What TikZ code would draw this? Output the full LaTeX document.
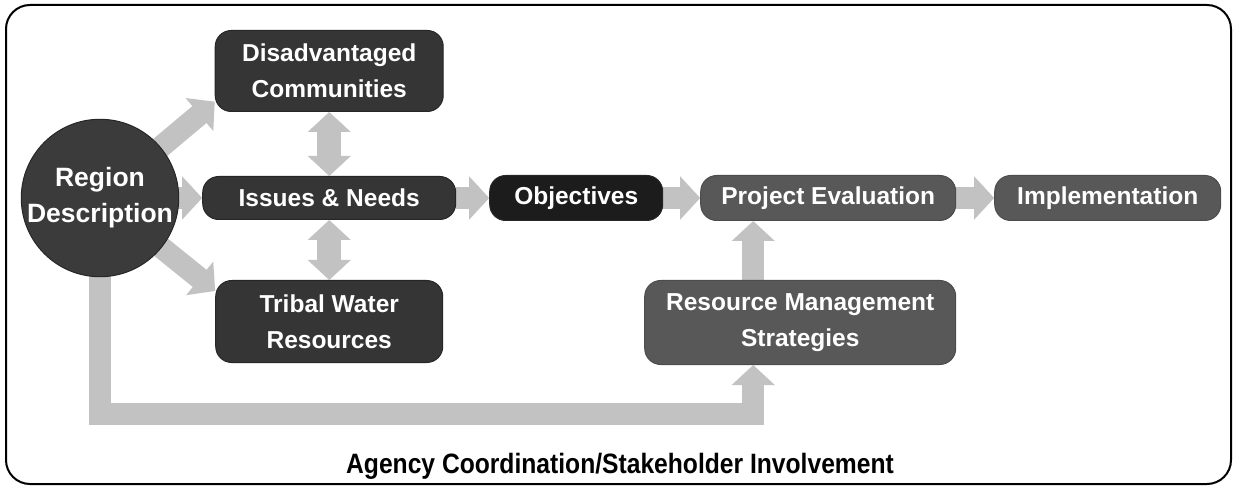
\documentclass[tikz,border=0pt]{standalone}
\usepackage{fontspec}
\setmainfont{Liberation Sans}
\usetikzlibrary{positioning,arrows.meta}
\pgfdeclarelayer{back}
\pgfsetlayers{back,main}
\definecolor{regionfill}{HTML}{3B3B3B}
\definecolor{darkfill}{HTML}{353535}
\definecolor{objfill}{HTML}{1C1C1C}
\definecolor{midfill}{HTML}{585858}
\definecolor{arrowfill}{HTML}{C2C2C2}
\tikzset{
    boxtext/.style={text=white, align=center, inner sep=0pt,
        font=\bfseries\fontsize{24.5}{36}\selectfont},
    darkbox/.style={boxtext, rounded corners=16pt, fill=darkfill, draw=black!85, line width=1pt},
    objbox/.style={darkbox, fill=objfill},
    midbox/.style={darkbox, fill=midfill, draw=black!70},
    flow/.style={draw=arrowfill, line width=22pt, -{Triangle[width=42pt,length=20pt]}},
    twoway/.style={draw=arrowfill, line width=24pt,
        {Triangle[width=42pt,length=20pt]}-{Triangle[width=42pt,length=20pt]}},
    frame/.style={draw=black, line width=2pt, rounded corners=24pt}
}

\begin{document}
\begin{tikzpicture}[x=1pt,y=-1pt]
            \useasboundingbox (0,0) rectangle (1234,486);
            \draw[frame] (6,5) rectangle (1231,484);
            \node[boxtext, circle, fill=regionfill, draw=black!85, line width=1pt, minimum size=154pt,
                font=\bfseries\fontsize{26.5}{36}\selectfont] (region) at (100,198) {Region\\Description};
            \node[darkbox, minimum width=253pt, minimum height=43pt, right=23pt of region] (issues) {Issues \& Needs};
            \node[darkbox, minimum width=228pt, minimum height=81pt, above=64pt of issues] (disadv) {Disadvantaged\\Communities};
            \node[darkbox, minimum width=227pt, minimum height=82pt, below=60pt of issues] (tribal) {Tribal Water\\Resources};
            \node[objbox, minimum width=173pt, minimum height=45pt, right=33pt of issues] (objectives) {Objectives};
            \node[midbox, minimum width=255pt, minimum height=45pt, right=37pt of objectives] (evaluation) {Project Evaluation};
            \node[midbox, minimum width=226pt, minimum height=45pt, right=38pt of evaluation] (implementation) {Implementation};
            \node[midbox, minimum width=311pt, minimum height=84pt, below=59pt of evaluation.south east, anchor=north east] (resource) {Resource Management\\Strategies};
            \node[font=\bfseries\fontsize{28}{30}\selectfont] (agency) at (620,466) {\scalebox{0.88}[1]{Agency Coordination/Stakeholder Involvement}};
            \coordinate (riser) at ([xshift=109pt]resource.south west);
            \coordinate (bend) at ([yshift=-49pt]riser);
            \begin{pgfonlayer}{back}
                \draw[flow] (region.center) -- (disadv.195);
                \draw[flow] (region.center) -- (issues.west);
                \draw[flow] (region.center) -- (tribal.165);
                \draw[twoway] (disadv.south) -- (issues.north);
                \draw[twoway] (issues.south) -- (tribal.north);
                \draw[flow] (issues.east) -- (objectives.west);
                \draw[flow] (objectives.east) -- (evaluation.west);
                \draw[flow] (evaluation.east) -- (implementation.west);
                \draw[flow] (resource.north -| riser) -- (evaluation.south -| riser);
                \draw[flow] (region.center) |- (bend) -- (riser);
            \end{pgfonlayer}
        \end{tikzpicture}
\end{document}
